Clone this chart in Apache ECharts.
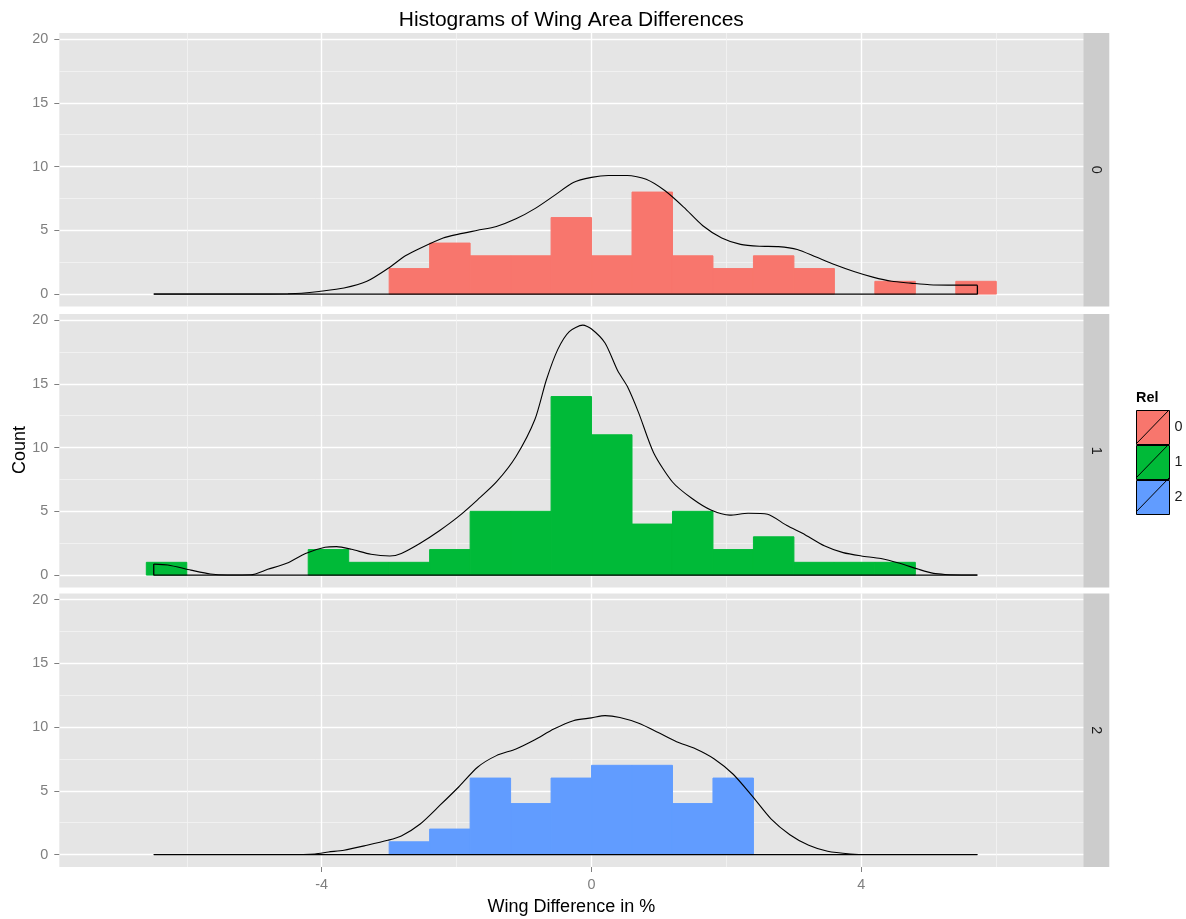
<!DOCTYPE html>
<html>
<head>
<meta charset="utf-8">
<script src="https://cdn.jsdelivr.net/npm/echarts@6/dist/echarts.min.js"></script>
<style>
html,body{margin:0;padding:0;background:#fff;}
#chart{width:1186px;height:919px;}
</style>
</head>
<body>
<div id="chart"></div>
<script>
// ---------- data ----------
const relLevels = ['0', '1', '2'];
const relColors = ['#F8766D', '#00BA38', '#619CFF'];
const binWidth = 0.6;
const binLeft = [-6.6, -6.0, -5.4, -4.8, -4.2, -3.6, -3.0, -2.4, -1.8, -1.2, -0.6, 0, 0.6, 1.2, 1.8, 2.4, 3.0, 3.6, 4.2, 4.8, 5.4];
const counts0 = [0, 0, 0, 0, 0, 0, 2, 4, 3, 3, 6, 3, 8, 3, 2, 3, 2, 0, 1, 0, 1];
const counts1 = [1, 0, 0, 0, 2, 1, 1, 2, 5, 5, 14, 11, 4, 5, 2, 3, 1, 1, 1, 0, 0];
const counts2 = [0, 0, 0, 0, 0, 0, 1, 2, 6, 4, 6, 7, 7, 4, 6, 0, 0, 0, 0, 0, 0];

// density (scaled to counts): [x, y]
const dens0 = [[-6.49,0],[-5.0,0],[-4.5,0.02],[-4.3,0.06],[-4.04,0.2],[-3.67,0.47],[-3.33,1.0],[-3.02,2.0],[-2.76,3.0],[-2.54,3.6],[-2.2,4.4],[-1.97,4.7],[-1.69,5.0],[-1.41,5.3],[-1.12,5.9],[-0.84,6.7],[-0.56,7.7],[-0.27,8.75],[0,9.15],[0.25,9.3],[0.53,9.3],[0.81,9.0],[1.09,8.1],[1.37,6.8],[1.65,5.36],[1.93,4.4],[2.21,3.9],[2.49,3.75],[2.77,3.72],[3.05,3.5],[3.33,2.9],[3.61,2.3],[3.89,1.77],[4.17,1.33],[4.45,1.0],[4.73,0.86],[5.01,0.73],[5.29,0.7],[5.72,0.7]];
const dens1 = [[-6.49,0.86],[-6.28,0.79],[-5.94,0.39],[-5.65,0.08],[-5.4,0.0],[-5.05,0.02],[-4.8,0.45],[-4.52,0.92],[-4.24,1.7],[-3.95,2.18],[-3.78,2.23],[-3.56,2.02],[-3.27,1.63],[-2.99,1.5],[-2.82,1.7],[-2.54,2.5],[-2.25,3.5],[-1.97,4.6],[-1.69,5.9],[-1.41,7.3],[-1.12,9.3],[-0.84,12.2],[-0.67,15.3],[-0.5,17.7],[-0.33,19.1],[-0.13,19.6],[0,19.3],[0.2,18.2],[0.39,16.0],[0.53,14.8],[0.7,12.7],[0.92,9.6],[1.2,7.3],[1.49,6.0],[1.77,5.1],[2.05,4.7],[2.32,4.85],[2.61,4.77],[2.89,3.9],[3.17,3.15],[3.45,2.3],[3.73,1.76],[4.0,1.5],[4.29,1.3],[4.57,0.92],[4.85,0.45],[5.07,0.13],[5.24,0.05],[5.72,0]];
const dens2 = [[-6.49,0],[-4.5,0],[-4.1,0.05],[-3.9,0.2],[-3.67,0.34],[-3.33,0.73],[-3.02,1.12],[-2.82,1.46],[-2.54,2.4],[-2.25,3.85],[-1.97,5.3],[-1.69,6.85],[-1.41,7.76],[-1.12,8.28],[-0.84,9.0],[-0.56,9.84],[-0.27,10.5],[0,10.72],[0.2,10.9],[0.42,10.75],[0.7,10.3],[0.98,9.6],[1.26,8.85],[1.54,8.3],[1.82,7.5],[2.1,6.3],[2.38,4.6],[2.66,2.8],[2.94,1.56],[3.22,0.73],[3.5,0.26],[3.84,0.05],[4.1,0],[5.72,0]];

const xMajorTicks = [-4, 0, 4];
const xMinorTicks = [-6, -2, 2, 6];
const yMajorTicks = [0, 5, 10, 15, 20];
const yMinorTicks = [2.5, 7.5, 12.5, 17.5];

const titleText = 'Histograms of Wing Area Differences';
const xTitle = 'Wing Difference in %';
const yTitle = 'Count';
const legendTitle = 'Rel';

// ---------- layout ----------
const FONT = '"Liberation Sans", Arial, sans-serif';
const X_MIN = -7.89, X_MAX = 7.29;
const Y_MIN = -0.975, Y_MAX = 20.475;
const PANEL_LEFT = 59.3, PANEL_RIGHT = 1083.3, PANEL_H = 273.5;
const panelTops = [33, 314, 593.5];
const STRIP_W = 26;
const allCounts = [counts0, counts1, counts2];
const allDens = [dens0, dens1, dens2];

const grids = [], xAxes = [], yAxes = [], series = [];
panelTops.forEach((top, i) => {
  grids.push({left: PANEL_LEFT, width: PANEL_RIGHT - PANEL_LEFT, top: top, height: PANEL_H,
    show: true, backgroundColor: '#E5E5E5', borderWidth: 0});
  const last = i === panelTops.length - 1;
  // major x
  xAxes.push({gridIndex: i, type: 'value', min: X_MIN, max: X_MAX, position: 'bottom',
    axisLine: {show: false, onZero: false},
    axisTick: {show: last, customValues: xMajorTicks, length: 5, lineStyle: {color: '#7F7F7F', width: 1}},
    axisLabel: {show: last, customValues: xMajorTicks, color: '#7F7F7F', fontSize: 14.4, fontFamily: FONT, margin: 11},
    splitLine: {show: true, lineStyle: {color: '#FFFFFF', width: 1.4}}});
  // minor x
  xAxes.push({gridIndex: i, type: 'value', min: X_MIN, max: X_MAX, position: 'bottom',
    axisLine: {show: false, onZero: false},
    axisTick: {show: false, customValues: xMinorTicks},
    axisLabel: {show: false, customValues: xMinorTicks},
    splitLine: {show: true, lineStyle: {color: '#F4F4F4', width: 0.8}}});
  yAxes.push({gridIndex: i, type: 'value', min: Y_MIN, max: Y_MAX, position: 'left',
    axisLine: {show: false, onZero: false},
    axisTick: {show: true, customValues: yMajorTicks, length: 5, lineStyle: {color: '#7F7F7F', width: 1}},
    axisLabel: {show: true, customValues: yMajorTicks, color: '#7F7F7F', fontSize: 14.4, fontFamily: FONT, margin: 11},
    splitLine: {show: true, lineStyle: {color: '#FFFFFF', width: 1.4}}});
  yAxes.push({gridIndex: i, type: 'value', min: Y_MIN, max: Y_MAX, position: 'left',
    axisLine: {show: false, onZero: false},
    axisTick: {show: false, customValues: yMinorTicks},
    axisLabel: {show: false, customValues: yMinorTicks},
    splitLine: {show: true, lineStyle: {color: '#F4F4F4', width: 0.8}}});

  const color = relColors[i];
  const counts = allCounts[i];
  series.push({
    type: 'custom', name: relLevels[i], xAxisIndex: 2 * i, yAxisIndex: 2 * i,
    itemStyle: {color: color},
    encode: {x: [0, 1], y: 2},
    data: binLeft.map((b, k) => [b, b + binWidth, counts[k]]).filter(d => d[2] > 0),
    renderItem: function (params, api) {
      const p0 = api.coord([api.value(0), api.value(2)]);
      const p1 = api.coord([api.value(1), 0]);
      return {type: 'rect', shape: {x: p0[0], y: p0[1], width: p1[0] - p0[0], height: p1[1] - p0[1]},
        style: {fill: color, stroke: color, lineWidth: 1}};
    },
    z: 2
  });
  const d = allDens[i];
  series.push({
    type: 'line', name: 'density ' + relLevels[i], xAxisIndex: 2 * i, yAxisIndex: 2 * i,
    data: d, showSymbol: false, symbol: 'none', smooth: 0.25, silent: true,
    lineStyle: {color: '#000', width: 1.1}, z: 3
  });
  const first = d[0], lastPt = d[d.length - 1];
  series.push({
    type: 'line', name: 'baseline ' + relLevels[i], xAxisIndex: 2 * i, yAxisIndex: 2 * i,
    data: [[lastPt[0], lastPt[1]], [lastPt[0], 0], [first[0], 0], [first[0], first[1]]],
    showSymbol: false, symbol: 'none', silent: true,
    lineStyle: {color: '#000', width: 1.3}, z: 3
  });
});

// legend geometry
const LEG_X = 1136, LEG_Y = 410, KEY_W = 33, KEY_H = 34;

const graphics = [];
graphics.push({type: 'text', x: (PANEL_LEFT + PANEL_RIGHT) / 2, y: 20,
  style: {text: titleText, font: '21px ' + FONT, fill: '#000', textAlign: 'center', textVerticalAlign: 'middle'}});
graphics.push({type: 'text', x: (PANEL_LEFT + PANEL_RIGHT) / 2, y: 907,
  style: {text: xTitle, font: '18px ' + FONT, fill: '#000', textAlign: 'center', textVerticalAlign: 'middle'}});
graphics.push({type: 'text', x: 20, y: (panelTops[0] + panelTops[2] + PANEL_H) / 2, rotation: Math.PI / 2,
  style: {text: yTitle, font: '18px ' + FONT, fill: '#000', textAlign: 'center', textVerticalAlign: 'middle'}});
panelTops.forEach((top, i) => {
  graphics.push({type: 'rect', shape: {x: PANEL_RIGHT, y: top, width: STRIP_W, height: PANEL_H},
    style: {fill: '#CCCCCC'}, silent: true});
  graphics.push({type: 'text', x: PANEL_RIGHT + STRIP_W / 2, y: top + PANEL_H / 2, rotation: -Math.PI / 2,
    style: {text: relLevels[i], font: '14.4px ' + FONT, fill: '#1A1A1A', textAlign: 'center', textVerticalAlign: 'middle'}});
  graphics.push({type: 'line', shape: {x1: LEG_X, y1: LEG_Y + KEY_H * (i + 1), x2: LEG_X + KEY_W, y2: LEG_Y + KEY_H * i},
    style: {stroke: '#000', lineWidth: 1}, z: 100});
});
graphics.push({type: 'text', x: LEG_X, y: LEG_Y - 12,
  style: {text: legendTitle, font: 'bold 14.4px ' + FONT, fill: '#000', textAlign: 'left', textVerticalAlign: 'middle'}});

const chart = echarts.init(document.getElementById('chart'), null, {renderer: 'canvas'});
chart.setOption({
  animation: false,
  backgroundColor: '#FFFFFF',
  grid: grids,
  xAxis: xAxes,
  yAxis: yAxes,
  legend: {
    data: relLevels, orient: 'vertical', left: LEG_X, top: LEG_Y, padding: 0,
    itemWidth: KEY_W, itemHeight: KEY_H, itemGap: 0, icon: 'rect', selectedMode: false,
    itemStyle: {borderColor: '#000', borderWidth: 1},
    textStyle: {fontSize: 14.4, color: '#1A1A1A', fontFamily: FONT}
  },
  graphic: graphics,
  series: series
});
</script>
</body>
</html>
